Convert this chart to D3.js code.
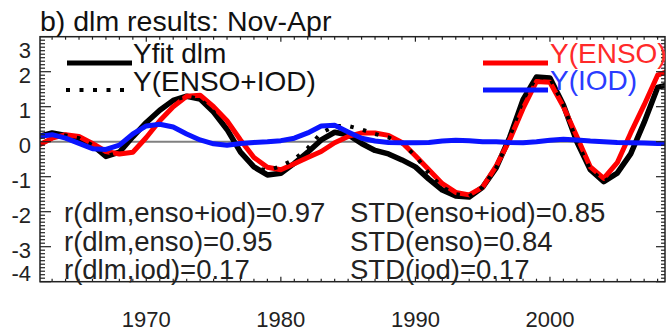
<!DOCTYPE html>
<html>
<head>
<meta charset="utf-8">
<script src="https://cdn.jsdelivr.net/npm/d3@7"></script>
<style>
  html, body { margin: 0; padding: 0; background: #fff; }
  svg { display: block; font-family: "Liberation Sans", Arial, sans-serif; }
</style>
</head>
<body>
<svg width="668" height="332"></svg>
<script>
const years = [1962, 1963, 1964, 1965, 1966, 1967, 1968, 1969, 1970, 1971, 1972, 1973,
  1974, 1975, 1976, 1977, 1978, 1979, 1980, 1981, 1982, 1983, 1984, 1985,
  1986, 1987, 1988, 1989, 1990, 1991, 1992, 1993, 1994, 1995, 1996, 1997,
  1998, 1999, 2000, 2001, 2002, 2003, 2004, 2005, 2006, 2007, 2008, 2009];

// Yfit dlm
const yfit = [0.15, 0.25, 0.18, 0.1, -0.1, -0.42, -0.3, 0.14, 0.55, 0.9, 1.18, 1.3,
  1.22, 0.85, 0.35, -0.3, -0.72, -0.95, -0.9, -0.62, -0.3, 0.05, 0.27, 0.2,
  -0.05, -0.25, -0.35, -0.52, -0.72, -1.07, -1.38, -1.55, -1.58, -1.3, -0.75, 0.12,
  1.2, 1.85, 1.82, 1.05, 0.0, -0.8, -1.14, -0.9, -0.35, 0.55, 1.55, 1.65];

// Y(ENSO+IOD)
const yEnsoIod = [0.15, 0.25, 0.18, 0.1, -0.1, -0.42, -0.3, 0.14, 0.55, 0.9, 1.18, 1.3,
  1.22, 0.85, 0.35, -0.28, -0.74, -0.82, -0.7, -0.5, -0.18, 0.25, 0.45, 0.45,
  0.35, 0.22, 0.12, -0.05, -0.4, -0.9, -1.3, -1.5, -1.56, -1.3, -0.75, 0.12,
  1.2, 1.85, 1.82, 1.05, 0.0, -0.8, -1.14, -0.9, -0.35, 0.55, 1.55, 1.65];

// Y(ENSO)
const yEnso = [-0.1, 0.1, 0.2, 0.15, -0.05, -0.28, -0.35, -0.3, 0.12, 0.6, 1.0, 1.3,
  1.33, 1.0, 0.6, 0.05, -0.45, -0.73, -0.8, -0.63, -0.45, -0.28, -0.03, 0.15,
  0.25, 0.25, 0.18, -0.02, -0.4, -0.8, -1.2, -1.45, -1.52, -1.3, -0.7, 0.05,
  0.95, 1.72, 1.7, 1.0, 0.15, -0.72, -1.05, -0.6, 0.25, 1.05, 1.9, 2.05];

// Y(IOD)
const yIod = [0.15, 0.2, 0.1, -0.05, -0.2, -0.22, -0.1, 0.22, 0.45, 0.5, 0.42, 0.22,
  0.05, -0.06, -0.1, -0.05, -0.02, 0.0, 0.03, 0.1, 0.25, 0.45, 0.47, 0.28,
  0.1, 0.02, -0.02, -0.03, -0.03, -0.02, 0.02, 0.04, 0.03, 0.0, 0.0, -0.02,
  -0.03, 0.0, 0.04, 0.07, 0.05, 0.02, 0.0, -0.02, -0.03, -0.04, -0.05, -0.05];

const yTicks = [3, 2, 1, 0, -1, -2, -3, -4];
const xTickLabels = [1970, 1980, 1990, 2000];

const stats = [
  ['r(dlm,enso+iod)=0.97', 'STD(enso+iod)=0.85'],
  ['r(dlm,enso)=0.95', 'STD(enso)=0.84'],
  ['r(dlm,iod)=0.17', 'STD(iod)=0.17']
];

const svg = d3.select('svg');
const pL = 40, pR = 665, pT = 36.7, pB = 281.7;

const x = d3.scaleLinear().domain([1962.1, 2008.55]).range([pL, pR]);
const y = d3.scaleLinear().domain([-4, 3]).range([pB, pT]);

svg.append('defs').append('clipPath').attr('id', 'plot')
  .append('rect').attr('x', pL).attr('y', pT)
  .attr('width', pR - pL).attr('height', pB - pT);

// zero line
svg.append('line')
  .attr('x1', pL).attr('x2', pR)
  .attr('y1', y(0)).attr('y2', y(0))
  .style('stroke', '#808080').style('stroke-width', 2);

const line = vals => d3.line()
  .x((d, i) => x(years[i]))
  .y(d => y(d))(vals);

const g = svg.append('g').attr('clip-path', 'url(#plot)');

g.append('path').attr('d', line(yfit))
  .style('fill', 'none').style('stroke', '#000').style('stroke-width', 5.5)
  .style('stroke-linejoin', 'round');
g.append('path').attr('d', line(yEnso))
  .style('fill', 'none').style('stroke', '#ff0000').style('stroke-width', 5)
  .style('stroke-linejoin', 'round');
g.append('path').attr('d', line(yEnsoIod))
  .style('fill', 'none').style('stroke', '#000').style('stroke-width', 4)
  .style('stroke-dasharray', '3.5 9.5');
g.append('path').attr('d', line(yIod))
  .style('fill', 'none').style('stroke', '#0a14ff').style('stroke-width', 5)
  .style('stroke-linejoin', 'round');

// box
svg.append('rect')
  .attr('x', pL).attr('y', pT)
  .attr('width', pR - pL).attr('height', pB - pT)
  .style('fill', 'none').style('stroke', '#222').style('stroke-width', 1.5);

// y ticks, left and right, pointing inward
const yMinor = d3.range(-40, 31).map(d => d / 10);
const ticks = svg.append('g').style('stroke', '#222').style('stroke-width', 1.2);
yMinor.forEach(v => {
  const major = Math.abs(v - Math.round(v)) < 1e-9;
  ticks.append('line').attr('x1', pL).attr('x2', pL + (major ? 11 : 5))
    .attr('y1', y(v)).attr('y2', y(v));
  ticks.append('line').attr('x1', pR).attr('x2', pR - (major ? 9 : 4))
    .attr('y1', y(v)).attr('y2', y(v));
});

// x ticks, top and bottom
years.filter(yr => x(yr) > pL && x(yr) < pR).forEach(yr => {
  const len = yr % 10 === 0 ? 5 : 3;
  ticks.append('line').attr('x1', x(yr)).attr('x2', x(yr))
    .attr('y1', pT).attr('y2', pT + len);
  ticks.append('line').attr('x1', x(yr)).attr('x2', x(yr))
    .attr('y1', pB).attr('y2', pB - len);
});

// y labels
svg.selectAll('text.ylab').data(yTicks).enter().append('text')
  .attr('class', 'ylab')
  .attr('x', 31)
  .attr('y', d => d === 3 ? 58 : d === -4 ? 281 : y(d) + 11.3)
  .attr('text-anchor', 'end')
  .style('font-size', '22px').style('fill', '#222')
  .text(d => d);

// x labels
svg.selectAll('text.xlab').data(xTickLabels).enter().append('text')
  .attr('class', 'xlab')
  .attr('x', d => x(d))
  .attr('y', 327)
  .attr('text-anchor', 'middle')
  .style('font-size', '22px').style('fill', '#222')
  .text(d => d);

// title
svg.append('text').attr('x', 40).attr('y', 31)
  .style('font-size', '28.5px').style('fill', '#111')
  .text('b) dlm results: Nov-Apr');

// legend
const leg = svg.append('g');
leg.append('line').attr('x1', 67).attr('x2', 132).attr('y1', 63).attr('y2', 63)
  .style('stroke', '#000').style('stroke-width', 5);
leg.append('line').attr('x1', 66).attr('x2', 132).attr('y1', 90).attr('y2', 90)
  .style('stroke', '#000').style('stroke-width', 4).style('stroke-dasharray', '4 9.5');
leg.append('text').attr('x', 133).attr('y', 63).style('font-size', '28px').style('fill', '#111')
  .text('Yfit dlm');
leg.append('text').attr('x', 133).attr('y', 91).style('font-size', '28px').style('fill', '#111')
  .text('Y(ENSO+IOD)');
leg.append('line').attr('x1', 483).attr('x2', 548).attr('y1', 63).attr('y2', 63)
  .style('stroke', '#ff0000').style('stroke-width', 5);
leg.append('line').attr('x1', 483).attr('x2', 548).attr('y1', 90).attr('y2', 90)
  .style('stroke', '#0a14ff').style('stroke-width', 5);
leg.append('text').attr('x', 550).attr('y', 63).style('font-size', '28px').style('fill', '#ff2a2a')
  .text('Y(ENSO)');
leg.append('text').attr('x', 550).attr('y', 90).style('font-size', '28px').style('fill', '#2a3cff')
  .text('Y(IOD)');

// statistics text
stats.forEach((row, i) => {
  const by = [222, 251, 279][i];
  svg.append('text').attr('x', 64).attr('y', by)
    .style('font-size', '27.5px').style('fill', '#222').text(row[0]);
  svg.append('text').attr('x', 350).attr('y', by)
    .style('font-size', '27.5px').style('fill', '#222').text(row[1]);
});
</script>
</body>
</html>
